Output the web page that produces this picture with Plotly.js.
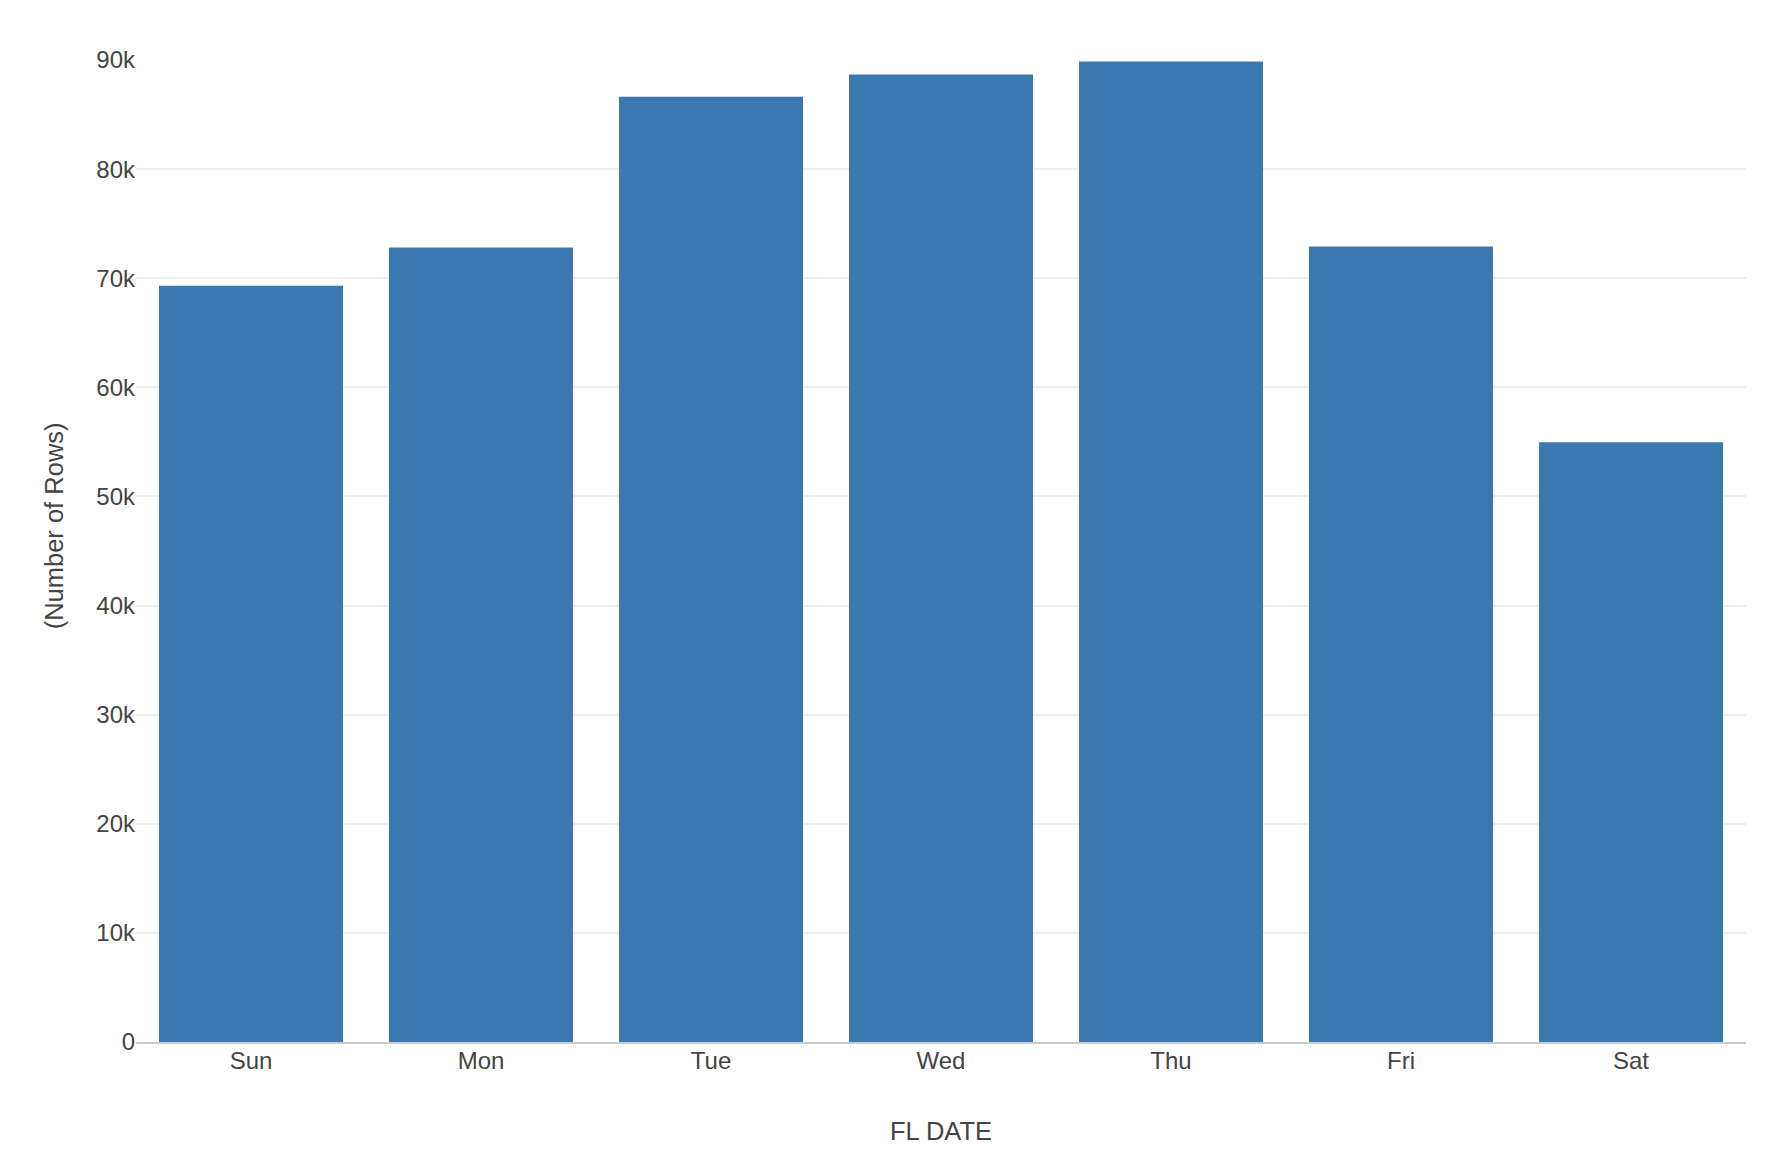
<!DOCTYPE html>
<html>
<head>
<meta charset="utf-8">
<script src="https://cdn.plot.ly/plotly-3.0.1.min.js"></script>
<style>html,body{margin:0;padding:0;background:#fff;}#chart{width:1774px;height:1156px;}</style>
</head>
<body>
<div id="chart"></div>
<script>
const days = ["Sun", "Mon", "Tue", "Wed", "Thu", "Fri", "Sat"];
const rowCounts = [69310, 72820, 86640, 88670, 89860, 72910, 54970];
const yTicks = [0, 10000, 20000, 30000, 40000, 50000, 60000, 70000, 80000, 90000];
const xTitle = "FL DATE";
const yTitle = "(Number of Rows)";

const family = "Liberation Sans, Arial, Helvetica, sans-serif";
const font = {family: family, size: 24, color: "#444444"};
const titleFont = {family: family, size: 25.5, color: "#444444"};

Plotly.newPlot("chart", [{
  type: "bar",
  x: days,
  y: rowCounts,
  marker: {color: "#3b78b0"},
  hoverinfo: "x+y"
}], {
  width: 1774,
  height: 1156,
  font: font,
  paper_bgcolor: "#ffffff",
  plot_bgcolor: "#ffffff",
  margin: {l: 136, r: 28, t: 60, b: 114},
  bargap: 0.2,
  showlegend: false,
  xaxis: {
    tickfont: font,
    showline: true,
    linecolor: "#cccccc",
    linewidth: 2,
    showgrid: false,
    ticks: "",
    ticklabelstandoff: -4,
    automargin: false
  },
  yaxis: {
    tickfont: font,
    range: [0, 90000],
    tickvals: yTicks,
    tickformat: "~s",
    gridcolor: "#eeeeee",
    gridwidth: 2,
    zeroline: false,
    showline: false,
    ticks: "",
    automargin: false
  },
  annotations: [
    {text: xTitle, xref: "paper", yref: "paper", x: 0.5, y: -0.0906,
     xanchor: "center", yanchor: "middle", showarrow: false, font: titleFont},
    {text: yTitle, xref: "paper", yref: "paper", x: -0.0507, y: 0.5255,
     xanchor: "center", yanchor: "middle", textangle: -90, showarrow: false, font: titleFont}
  ]
}, {displayModeBar: false, staticPlot: true});
</script>
</body>
</html>
